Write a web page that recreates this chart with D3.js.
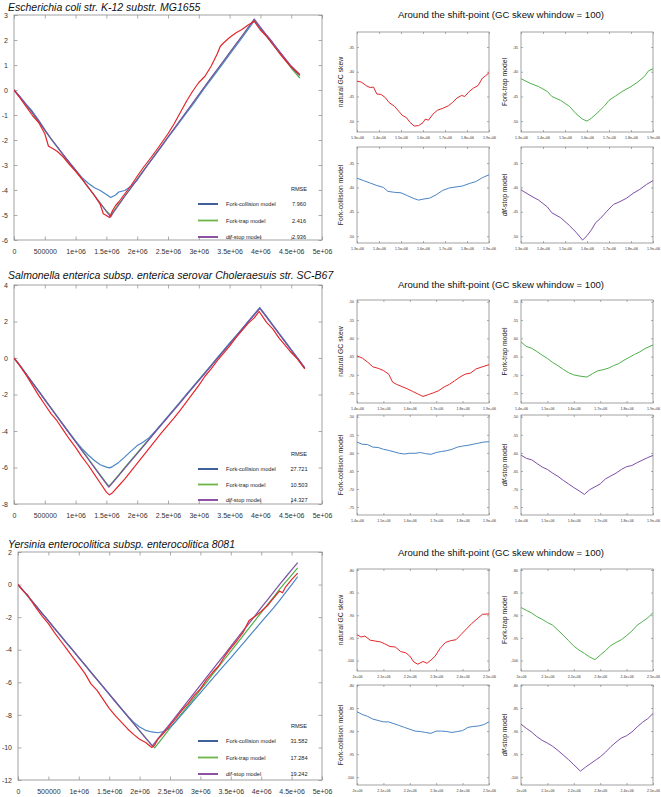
<!DOCTYPE html>
<html><head><meta charset="utf-8">
<script src="https://cdn.jsdelivr.net/npm/d3@7"></script>
<style>body{margin:0;background:#fff}</style>
</head><body><svg id="c" width="661" height="797"></svg>
<script>
// ---------------- DATA ----------------
const bigTitles = [
  "Escherichia coli str. K-12 substr. MG1655",
  "Salmonella enterica subsp. enterica serovar Choleraesuis str. SC-B67",
  "Yersinia enterocolitica subsp. enterocolitica 8081"
];
const sideTitle = "Around the shift-point (GC skew whindow = 100)";
const bigXTicks = [0,500000,1000000,1500000,2000000,2500000,3000000,3500000,4000000,4500000,5000000];
const bigXTickLabels = ["0","500000","1e+06","1.5e+06","2e+06","2.5e+06","3e+06","3.5e+06","4e+06","4.5e+06","5e+06"];
const ecoliYTicks = [-6,-5,-4,-3,-2,-1,0,1,2,3];
const salYTicks = [-8,-6,-4,-2,0,2,4];
const yerYTicks = [-12,-10,-8,-6,-4,-2,0,2];
const modelNames = ["Fork-collision model","Fork-trap model","dif-stop model"];
const ecoliRMSE = ["7.960","2.416","2.936"];
const salRMSE = ["27.721","10.503","14.327"];
const yerRMSE = ["31.582","17.284","19.242"];

// big panels: [position (Mb), cumulative GC skew]
const ecoliNatural = [[0,0],[0.1,-0.33],[0.2,-0.68],[0.3,-1.02],[0.4,-1.3],[0.5,-1.75],[0.56,-2.25],[0.6,-2.3],[0.7,-2.45],[0.8,-2.68],[0.9,-2.98],[1.0,-3.25],[1.1,-3.55],[1.2,-3.88],[1.3,-4.2],[1.4,-4.58],[1.45,-4.95],[1.5,-5.02],[1.55,-5.1],[1.6,-4.82],[1.65,-4.62],[1.7,-4.48],[1.8,-4.15],[1.9,-3.82],[2.0,-3.45],[2.1,-3.1],[2.2,-2.78],[2.3,-2.45],[2.4,-2.1],[2.5,-1.75],[2.6,-1.35],[2.7,-0.9],[2.8,-0.45],[2.9,-0.05],[3.0,0.3],[3.1,0.55],[3.2,0.95],[3.3,1.45],[3.35,1.75],[3.4,1.88],[3.5,2.1],[3.6,2.28],[3.7,2.42],[3.8,2.6],[3.9,2.75],[4.0,2.4],[4.1,2.15],[4.2,1.82],[4.3,1.5],[4.4,1.2],[4.5,0.92],[4.64,0.6]];
const ecoliCollision = [[0,0],[0.1,-0.28],[0.2,-0.58],[0.3,-0.86],[0.4,-1.2],[0.5,-1.58],[0.6,-1.95],[0.7,-2.27],[0.8,-2.6],[0.9,-2.9],[1.0,-3.2],[1.1,-3.5],[1.2,-3.72],[1.3,-3.9],[1.4,-4.02],[1.5,-4.18],[1.57,-4.3],[1.65,-4.2],[1.7,-4.08],[1.8,-4.02],[1.9,-3.85],[2.0,-3.6],[2.1,-3.25],[2.2,-2.9],[2.3,-2.58],[2.4,-2.25],[2.5,-1.9],[2.6,-1.58],[2.7,-1.25],[2.8,-0.92],[2.9,-0.6],[3.0,-0.25],[3.1,0.1],[3.2,0.42],[3.3,0.75],[3.4,1.08],[3.5,1.42],[3.6,1.75],[3.7,2.08],[3.8,2.42],[3.9,2.76],[4.0,2.46],[4.1,2.15],[4.2,1.85],[4.3,1.55],[4.4,1.24],[4.5,0.92],[4.64,0.58]];
const ecoliTrap = [[0,0],[0.1,-0.3],[0.2,-0.62],[0.3,-0.93],[0.4,-1.27],[0.5,-1.62],[0.6,-1.96],[0.7,-2.28],[0.8,-2.6],[0.9,-2.92],[1.0,-3.22],[1.1,-3.55],[1.2,-3.88],[1.3,-4.2],[1.4,-4.52],[1.5,-4.84],[1.57,-5.02],[1.6,-4.9],[1.7,-4.56],[1.8,-4.23],[1.9,-3.9],[2.0,-3.56],[2.1,-3.22],[2.2,-2.89],[2.3,-2.55],[2.4,-2.22],[2.5,-1.88],[2.6,-1.55],[2.7,-1.21],[2.8,-0.88],[2.9,-0.54],[3.0,-0.2],[3.1,0.13],[3.2,0.47],[3.3,0.8],[3.4,1.14],[3.5,1.47],[3.6,1.81],[3.7,2.14],[3.8,2.48],[3.9,2.8],[4.0,2.45],[4.1,2.15],[4.2,1.84],[4.3,1.52],[4.4,1.2],[4.5,0.88],[4.64,0.48]];
const ecoliDif = [[0,0],[0.1,-0.29],[0.2,-0.6],[0.3,-0.9],[0.4,-1.24],[0.5,-1.6],[0.6,-1.94],[0.7,-2.26],[0.8,-2.58],[0.9,-2.9],[1.0,-3.21],[1.1,-3.54],[1.2,-3.87],[1.3,-4.2],[1.4,-4.53],[1.5,-4.86],[1.57,-5.08],[1.6,-4.95],[1.7,-4.6],[1.8,-4.25],[1.9,-3.92],[2.0,-3.58],[2.1,-3.24],[2.2,-2.9],[2.3,-2.56],[2.4,-2.22],[2.5,-1.88],[2.6,-1.54],[2.7,-1.2],[2.8,-0.86],[2.9,-0.52],[3.0,-0.18],[3.1,0.16],[3.2,0.5],[3.3,0.83],[3.4,1.16],[3.5,1.5],[3.6,1.83],[3.7,2.16],[3.8,2.5],[3.9,2.84],[4.0,2.52],[4.1,2.2],[4.2,1.9],[4.3,1.58],[4.4,1.27],[4.5,0.96],[4.64,0.62]];

const salNatural = [[0,0],[0.1,-0.45],[0.2,-0.95],[0.3,-1.5],[0.4,-2.05],[0.5,-2.55],[0.6,-3.05],[0.7,-3.45],[0.8,-3.95],[0.9,-4.45],[1.0,-4.9],[1.1,-5.4],[1.2,-5.85],[1.3,-6.35],[1.4,-6.85],[1.5,-7.35],[1.55,-7.5],[1.6,-7.38],[1.7,-7.0],[1.8,-6.62],[1.9,-6.2],[2.0,-5.78],[2.1,-5.35],[2.2,-4.92],[2.3,-4.5],[2.4,-4.08],[2.5,-3.68],[2.6,-3.28],[2.7,-2.85],[2.8,-2.4],[2.9,-1.95],[3.0,-1.5],[3.1,-1.0],[3.2,-0.6],[3.3,-0.15],[3.4,0.25],[3.5,0.65],[3.6,1.1],[3.7,1.5],[3.8,1.9],[3.9,2.2],[3.98,2.55],[4.05,2.2],[4.1,1.95],[4.2,1.6],[4.3,1.1],[4.4,0.7],[4.5,0.3],[4.6,-0.05],[4.72,-0.6]];
const salCollision = [[0,0],[0.1,-0.43],[0.2,-0.9],[0.3,-1.36],[0.4,-1.82],[0.5,-2.28],[0.6,-2.74],[0.7,-3.2],[0.8,-3.66],[0.9,-4.12],[1.0,-4.56],[1.1,-4.95],[1.2,-5.3],[1.3,-5.6],[1.4,-5.85],[1.5,-5.98],[1.55,-6.02],[1.6,-5.95],[1.7,-5.72],[1.8,-5.42],[1.9,-5.1],[2.0,-4.8],[2.1,-4.6],[2.2,-4.35],[2.3,-3.98],[2.4,-3.6],[2.5,-3.2],[2.6,-2.8],[2.7,-2.4],[2.8,-2.0],[2.9,-1.6],[3.0,-1.2],[3.1,-0.8],[3.2,-0.4],[3.3,0.0],[3.4,0.4],[3.5,0.82],[3.6,1.2],[3.7,1.6],[3.8,2.0],[3.9,2.4],[3.99,2.76],[4.1,2.28],[4.2,1.82],[4.3,1.37],[4.4,0.92],[4.5,0.46],[4.6,0.02],[4.72,-0.52]];
const salTrap = [[0,0],[0.1,-0.42],[0.2,-0.88],[0.3,-1.35],[0.4,-1.8],[0.5,-2.27],[0.6,-2.73],[0.7,-3.2],[0.8,-3.65],[0.9,-4.1],[1.0,-4.56],[1.1,-5.02],[1.2,-5.48],[1.3,-5.95],[1.4,-6.4],[1.5,-6.86],[1.54,-7.02],[1.6,-6.8],[1.7,-6.4],[1.8,-6.0],[1.9,-5.6],[2.0,-5.2],[2.1,-4.8],[2.2,-4.4],[2.3,-4.0],[2.4,-3.6],[2.5,-3.2],[2.6,-2.8],[2.7,-2.4],[2.8,-2.0],[2.9,-1.6],[3.0,-1.2],[3.1,-0.8],[3.2,-0.4],[3.3,0.0],[3.4,0.4],[3.5,0.8],[3.6,1.18],[3.7,1.58],[3.8,1.98],[3.9,2.38],[3.99,2.74],[4.1,2.25],[4.2,1.8],[4.3,1.35],[4.4,0.9],[4.5,0.45],[4.6,0.0],[4.72,-0.55]];
const salDif = [[0,0],[0.1,-0.43],[0.2,-0.89],[0.3,-1.36],[0.4,-1.82],[0.5,-2.29],[0.6,-2.75],[0.7,-3.22],[0.8,-3.68],[0.9,-4.14],[1.0,-4.6],[1.1,-5.06],[1.2,-5.52],[1.3,-5.98],[1.4,-6.44],[1.5,-6.9],[1.54,-7.08],[1.6,-6.84],[1.7,-6.44],[1.8,-6.04],[1.9,-5.64],[2.0,-5.24],[2.1,-4.84],[2.2,-4.44],[2.3,-4.04],[2.4,-3.64],[2.5,-3.24],[2.6,-2.84],[2.7,-2.44],[2.8,-2.04],[2.9,-1.64],[3.0,-1.24],[3.1,-0.84],[3.2,-0.44],[3.3,-0.04],[3.4,0.36],[3.5,0.76],[3.6,1.16],[3.7,1.56],[3.8,1.96],[3.9,2.36],[3.99,2.72],[4.1,2.24],[4.2,1.78],[4.3,1.33],[4.4,0.88],[4.5,0.43],[4.6,-0.02],[4.72,-0.56]];

const yerNatural = [[0,0],[0.05,-0.25],[0.1,-0.45],[0.15,-0.6],[0.2,-0.9],[0.3,-1.45],[0.4,-1.95],[0.5,-2.4],[0.6,-2.95],[0.7,-3.45],[0.8,-3.95],[0.9,-4.45],[1.0,-4.95],[1.1,-5.45],[1.2,-6.1],[1.3,-6.5],[1.4,-7.05],[1.5,-7.6],[1.6,-8.05],[1.7,-8.45],[1.8,-8.85],[1.9,-9.2],[2.0,-9.5],[2.1,-9.7],[2.2,-10.0],[2.25,-9.85],[2.3,-9.5],[2.4,-9.1],[2.5,-8.65],[2.6,-8.2],[2.7,-7.7],[2.8,-7.3],[2.9,-6.8],[3.0,-6.4],[3.1,-5.85],[3.2,-5.4],[3.3,-5.0],[3.4,-4.4],[3.5,-3.9],[3.6,-3.45],[3.7,-2.95],[3.8,-2.2],[3.9,-1.95],[4.0,-1.65],[4.1,-1.3],[4.2,-0.85],[4.3,-0.4],[4.35,-0.5],[4.4,-0.15],[4.5,0.3],[4.6,0.7]];
const yerCollision = [[0,0],[0.1,-0.43],[0.2,-0.88],[0.3,-1.33],[0.4,-1.79],[0.5,-2.23],[0.6,-2.69],[0.7,-3.13],[0.8,-3.59],[0.9,-4.03],[1.0,-4.49],[1.1,-4.93],[1.2,-5.39],[1.3,-5.83],[1.4,-6.28],[1.5,-6.73],[1.6,-7.18],[1.7,-7.62],[1.8,-8.05],[1.9,-8.45],[2.0,-8.75],[2.1,-8.95],[2.2,-9.05],[2.3,-9.1],[2.4,-9.02],[2.5,-8.78],[2.6,-8.38],[2.7,-7.95],[2.8,-7.52],[2.9,-7.08],[3.0,-6.65],[3.1,-6.2],[3.2,-5.78],[3.3,-5.35],[3.4,-4.92],[3.5,-4.5],[3.6,-4.05],[3.7,-3.62],[3.8,-3.18],[3.9,-2.75],[4.0,-2.3],[4.1,-1.88],[4.2,-1.45],[4.3,-0.98],[4.4,-0.5],[4.5,-0.02],[4.6,0.48]];
const yerTrap = [[0,0],[0.1,-0.42],[0.2,-0.88],[0.3,-1.32],[0.4,-1.78],[0.5,-2.22],[0.6,-2.68],[0.7,-3.12],[0.8,-3.58],[0.9,-4.02],[1.0,-4.48],[1.1,-4.92],[1.2,-5.38],[1.3,-5.82],[1.4,-6.27],[1.5,-6.72],[1.6,-7.17],[1.7,-7.62],[1.8,-8.07],[1.9,-8.52],[2.0,-8.97],[2.1,-9.42],[2.2,-9.86],[2.25,-10.02],[2.3,-9.78],[2.4,-9.3],[2.5,-8.82],[2.6,-8.36],[2.7,-7.88],[2.8,-7.42],[2.9,-6.95],[3.0,-6.47],[3.1,-6.0],[3.2,-5.52],[3.3,-5.05],[3.4,-4.57],[3.5,-4.1],[3.6,-3.62],[3.7,-3.15],[3.8,-2.67],[3.9,-2.2],[4.0,-1.72],[4.1,-1.25],[4.2,-0.78],[4.3,-0.3],[4.4,0.15],[4.5,0.58],[4.6,1.02]];
const yerDif = [[0,0],[0.1,-0.43],[0.2,-0.88],[0.3,-1.33],[0.4,-1.79],[0.5,-2.23],[0.6,-2.69],[0.7,-3.13],[0.8,-3.59],[0.9,-4.03],[1.0,-4.49],[1.1,-4.93],[1.2,-5.39],[1.3,-5.83],[1.4,-6.28],[1.5,-6.73],[1.6,-7.18],[1.7,-7.63],[1.8,-8.08],[1.9,-8.53],[2.0,-8.98],[2.1,-9.43],[2.21,-9.9],[2.3,-9.48],[2.4,-9.0],[2.5,-8.55],[2.6,-8.08],[2.7,-7.6],[2.8,-7.12],[2.9,-6.65],[3.0,-6.18],[3.1,-5.7],[3.2,-5.22],[3.3,-4.75],[3.4,-4.28],[3.5,-3.8],[3.6,-3.32],[3.7,-2.85],[3.8,-2.38],[3.9,-1.9],[4.0,-1.42],[4.1,-0.95],[4.2,-0.48],[4.3,0.0],[4.4,0.45],[4.5,0.9],[4.6,1.35]];

// small panels: [position (Mb), GC skew]
const smallYLabels = ["natural GC skew","Fork-trap model","Fork-collision model","dif-stop model"];
const ecoliZoomXTicks = [1.3,1.4,1.5,1.6,1.7,1.8,1.9];
const ecoliZoomXLabels = ["1.3e+06","1.4e+06","1.5e+06","1.6e+06","1.7e+06","1.8e+06","1.9e+06"];
const ecoliZoomYTicks = [-35,-40,-45,-50];
const salZoomXTicks = [1.4,1.5,1.6,1.7,1.8,1.9];
const salZoomXLabels = ["1.4e+06","1.5e+06","1.6e+06","1.7e+06","1.8e+06","1.9e+06"];
const salZoomYTicks = [-50,-55,-60,-65,-70,-75];
const yerZoomXTicks = [2.0,2.1,2.2,2.3,2.4,2.5];
const yerZoomXLabels = ["2e+06","2.1e+06","2.2e+06","2.3e+06","2.4e+06","2.5e+06"];
const yerZoomYTicks = [-80,-85,-90,-95,-100];

const natural1 = [[1.300,-41.9],[1.320,-42.1],[1.345,-42.9],[1.360,-43.2],[1.375,-43.1],[1.390,-44.5],[1.410,-44.6],[1.430,-45.3],[1.445,-46.2],[1.470,-47.0],[1.490,-48.0],[1.505,-48.8],[1.525,-49.3],[1.540,-50.2],[1.560,-51.0],[1.580,-50.9],[1.600,-50.3],[1.610,-49.6],[1.625,-49.8],[1.645,-48.6],[1.665,-47.8],[1.690,-47.4],[1.715,-46.9],[1.735,-46.2],[1.755,-45.3],[1.775,-44.8],[1.790,-45.0],[1.810,-44.0],[1.830,-43.3],[1.850,-42.8],[1.870,-41.3],[1.885,-40.8],[1.900,-40.2]];
const fork1 = [[1.30,-41.4],[1.34,-42.3],[1.38,-43.0],[1.42,-44.0],[1.44,-45.0],[1.48,-45.8],[1.52,-47.0],[1.55,-48.5],[1.58,-49.6],[1.60,-50.0],[1.62,-49.4],[1.65,-48.2],[1.68,-46.9],[1.70,-45.8],[1.73,-44.9],[1.76,-44.0],[1.80,-43.0],[1.83,-42.1],[1.86,-41.0],[1.88,-39.8],[1.90,-39.4]];
const collision1 = [[1.30,-38.1],[1.33,-38.6],[1.36,-39.1],[1.39,-39.6],[1.42,-40.0],[1.44,-40.8],[1.47,-41.0],[1.50,-41.1],[1.53,-41.7],[1.56,-42.3],[1.58,-42.6],[1.60,-42.4],[1.63,-42.2],[1.66,-41.5],[1.69,-40.6],[1.72,-40.1],[1.75,-39.9],[1.78,-39.7],[1.81,-39.2],[1.84,-38.8],[1.87,-38.0],[1.90,-37.4]];
const difstop1 = [[1.30,-40.5],[1.34,-41.6],[1.38,-42.6],[1.42,-44.0],[1.44,-45.2],[1.48,-46.2],[1.52,-47.8],[1.55,-49.2],[1.58,-50.8],[1.60,-49.9],[1.62,-48.7],[1.64,-47.2],[1.66,-46.4],[1.69,-44.9],[1.72,-43.5],[1.75,-42.9],[1.78,-42.2],[1.81,-41.2],[1.84,-40.4],[1.87,-39.4],[1.90,-38.6]];

const natural2 = [[1.40,-64.8],[1.42,-65.4],[1.44,-66.5],[1.46,-67.8],[1.48,-68.2],[1.50,-68.8],[1.52,-69.8],[1.535,-72.0],[1.55,-72.6],[1.57,-73.2],[1.59,-73.8],[1.61,-74.5],[1.63,-75.2],[1.65,-75.9],[1.67,-75.4],[1.69,-74.9],[1.71,-74.3],[1.73,-73.3],[1.75,-72.6],[1.77,-71.6],[1.79,-70.6],[1.81,-69.8],[1.83,-69.5],[1.85,-68.4],[1.87,-67.9],[1.90,-67.2]];
const fork2 = [[1.40,-61.0],[1.42,-62.2],[1.44,-62.7],[1.46,-63.6],[1.48,-64.6],[1.50,-65.5],[1.52,-66.6],[1.54,-67.5],[1.56,-68.5],[1.58,-69.4],[1.60,-70.0],[1.62,-70.3],[1.65,-70.6],[1.67,-69.7],[1.69,-68.9],[1.71,-68.6],[1.73,-68.2],[1.75,-67.5],[1.77,-66.9],[1.79,-66.0],[1.81,-65.2],[1.83,-64.4],[1.85,-63.7],[1.87,-62.8],[1.90,-61.8]];
const collision2 = [[1.40,-57.0],[1.42,-57.6],[1.44,-57.7],[1.46,-58.4],[1.48,-58.5],[1.50,-59.0],[1.52,-59.3],[1.54,-59.7],[1.56,-60.1],[1.58,-60.3],[1.60,-60.1],[1.62,-60.1],[1.64,-59.9],[1.66,-60.2],[1.68,-60.4],[1.70,-59.9],[1.72,-59.6],[1.74,-59.4],[1.76,-59.0],[1.78,-58.4],[1.80,-58.1],[1.82,-57.9],[1.84,-57.6],[1.86,-57.3],[1.88,-57.0],[1.90,-56.9]];
const difstop2 = [[1.40,-60.6],[1.42,-61.5],[1.44,-61.9],[1.46,-62.9],[1.48,-63.9],[1.50,-64.6],[1.52,-65.6],[1.54,-66.5],[1.56,-67.6],[1.58,-68.6],[1.60,-69.6],[1.62,-70.5],[1.64,-71.5],[1.66,-70.2],[1.68,-69.4],[1.70,-68.6],[1.72,-67.2],[1.74,-66.4],[1.76,-65.6],[1.78,-64.6],[1.80,-63.8],[1.82,-63.5],[1.84,-62.7],[1.86,-62.0],[1.88,-61.3],[1.90,-60.7]];

const natural3 = [[2.000,-94.3],[2.015,-94.8],[2.030,-94.6],[2.050,-95.5],[2.070,-95.7],[2.090,-95.9],[2.105,-96.3],[2.125,-96.9],[2.145,-97.0],[2.165,-98.0],[2.185,-98.3],[2.200,-99.0],[2.215,-100.3],[2.230,-100.8],[2.250,-100.2],[2.265,-100.6],[2.280,-99.9],[2.295,-99.1],[2.315,-97.3],[2.335,-96.0],[2.355,-95.6],[2.375,-95.4],[2.395,-94.2],[2.415,-93.0],[2.435,-91.8],[2.455,-90.8],[2.475,-89.8],[2.500,-89.7]];
const fork3 = [[2.000,-88.3],[2.020,-88.9],[2.040,-89.5],[2.060,-90.3],[2.080,-90.9],[2.100,-91.6],[2.120,-92.2],[2.140,-93.3],[2.160,-94.4],[2.180,-95.6],[2.200,-96.8],[2.220,-97.7],[2.240,-98.4],[2.260,-99.2],[2.280,-99.8],[2.300,-98.8],[2.320,-97.8],[2.340,-96.7],[2.360,-96.0],[2.380,-95.4],[2.400,-94.5],[2.420,-93.5],[2.440,-92.2],[2.460,-91.4],[2.480,-90.6],[2.500,-89.4]];
const collision3 = [[2.000,-85.8],[2.020,-86.4],[2.040,-86.8],[2.060,-87.4],[2.080,-87.7],[2.100,-88.0],[2.120,-88.0],[2.140,-88.4],[2.160,-88.8],[2.180,-89.2],[2.200,-89.6],[2.220,-90.0],[2.240,-90.1],[2.260,-90.3],[2.280,-90.5],[2.300,-90.0],[2.320,-90.0],[2.340,-90.1],[2.360,-90.3],[2.380,-90.1],[2.400,-89.9],[2.420,-89.2],[2.440,-89.0],[2.460,-88.9],[2.480,-88.6],[2.500,-88.0]];
const difstop3 = [[2.000,-88.5],[2.020,-89.4],[2.040,-90.2],[2.060,-91.2],[2.080,-92.0],[2.100,-92.6],[2.120,-93.3],[2.140,-94.2],[2.160,-95.2],[2.180,-96.2],[2.200,-97.3],[2.225,-98.7],[2.245,-97.8],[2.265,-97.0],[2.285,-96.2],[2.300,-95.6],[2.320,-94.6],[2.340,-93.4],[2.360,-92.4],[2.380,-91.5],[2.400,-91.0],[2.420,-90.2],[2.440,-89.1],[2.460,-88.1],[2.480,-87.3],[2.500,-86.2]];

// ---------------- DRAWING ----------------
const FONT = "'Liberation Sans', Arial, Helvetica, sans-serif";
const COL = {red:"#e3262a", blue:"#4a84c4", green:"#4fb04a", purple:"#7e4ea6"};
const LEG = {blue:"#2c4e8e", green:"#6db54a", purple:"#7f3f9a"};
const FRAME = "#8a8a8a";
const svg = d3.select("#c");
let clipId = 0;

function frameAxes(g, x, y, xt, xl, yt, yl, fs, tick, padX, padY) {
  const [x0,x1] = x.range(), [y1,y0] = y.range();
  const b = g.append("g").attr("transform",`translate(0,${y1})`)
    .call(d3.axisBottom(x).tickValues(xt).tickFormat((d,i)=>xl?xl[i]:"").tickSizeInner(-tick).tickSizeOuter(0).tickPadding(padX));
  const t = g.append("g").attr("transform",`translate(0,${y0})`)
    .call(d3.axisTop(x).tickValues(xt).tickFormat("").tickSizeInner(-tick).tickSizeOuter(0));
  const l = g.append("g").attr("transform",`translate(${x0},0)`)
    .call(d3.axisLeft(y).tickValues(yt).tickFormat((d,i)=>yl?yl[i]:"").tickSizeInner(-tick).tickSizeOuter(0).tickPadding(padY));
  const r = g.append("g").attr("transform",`translate(${x1},0)`)
    .call(d3.axisRight(y).tickValues(yt).tickFormat("").tickSizeInner(-tick).tickSizeOuter(0));
  [b,t,l,r].forEach(a=>{
    a.select(".domain").remove();
    a.selectAll("line").attr("stroke",FRAME).attr("stroke-width",0.7);
    a.selectAll("text").attr("fill","#333").style("font-family",FONT).style("font-size",fs+"px");
  });
  g.append("rect").attr("x",x0).attr("y",y0).attr("width",x1-x0).attr("height",y1-y0)
    .attr("fill","none").attr("stroke",FRAME).attr("stroke-width",0.8);
}

function drawLines(g, x, y, series, xMult, width) {
  const id = "clip"+(clipId++);
  const [x0,x1] = x.range(), [y1,y0] = y.range();
  g.append("clipPath").attr("id",id).append("rect").attr("x",x0).attr("y",y0).attr("width",x1-x0).attr("height",y1-y0);
  const line = d3.line().x(d=>x(d[0]*xMult)).y(d=>y(d[1]));
  const lg = g.append("g").attr("clip-path",`url(#${id})`);
  series.forEach(s=>{
    lg.append("path").datum(s.data).attr("d",line).attr("fill","none")
      .attr("stroke",s.color).attr("stroke-width",width).attr("stroke-linejoin","round");
  });
}

function bigPanel(c) {
  const g = svg.append("g");
  const x = d3.scaleLinear().domain([0,5e6]).range([c.x0,c.x1]);
  const y = d3.scaleLinear().domain(c.yDomain).range([c.y1,c.y0]);
  g.append("text").attr("x",c.tx).attr("y",c.ty).text(c.title)
    .style("font-family",FONT).style("font-size","10.5px").style("font-style","italic").attr("fill","#111");
  frameAxes(g, x, y, bigXTicks, bigXTickLabels, c.yTicks, c.yTicks.map(String), 7, 3.5, 9, 6);
  drawLines(g, x, y, [
    {data:c.trap, color:COL.green},
    {data:c.coll, color:COL.blue},
    {data:c.dif, color:COL.purple},
    {data:c.nat, color:COL.red}
  ], 1e6, 1.2);
  // legend
  const lx = c.x1 - 124, ly = c.legY;
  const fsL = "5.6px";
  g.append("text").attr("x",c.x1-23).attr("y",ly).attr("text-anchor","middle").text("RMSE")
    .style("font-family",FONT).style("font-size",fsL).attr("fill","#222");
  const legCols = [LEG.blue, LEG.green, LEG.purple];
  modelNames.forEach((n,i)=>{
    const yy = ly + 13 + i*c.legStep;
    g.append("line").attr("x1",lx).attr("x2",lx+20).attr("y1",yy).attr("y2",yy)
      .attr("stroke",legCols[i]).attr("stroke-width",1.8);
    const t = g.append("text").attr("x",lx+28).attr("y",yy+2).style("font-family",FONT).style("font-size",fsL).attr("fill","#222");
    if (n.startsWith("dif")) {
      t.append("tspan").style("font-style","italic").text("dif");
      t.append("tspan").text(n.slice(3));
    } else t.text(n);
    g.append("text").attr("x",c.x1-23).attr("y",yy+2).attr("text-anchor","middle").text(c.rmse[i])
      .style("font-family",FONT).style("font-size",fsL).attr("fill","#222");
  });
}

bigPanel({title:bigTitles[0], tx:8, ty:11, x0:14, x1:322, y0:15, y1:240, yDomain:[-6,3], yTicks:ecoliYTicks,
  nat:ecoliNatural, coll:ecoliCollision, trap:ecoliTrap, dif:ecoliDif, rmse:ecoliRMSE, legY:191, legStep:16.5});
bigPanel({title:bigTitles[1], tx:8, ty:279, x0:14, x1:322, y0:285, y1:504, yDomain:[-8,4], yTicks:salYTicks,
  nat:salNatural, coll:salCollision, trap:salTrap, dif:salDif, rmse:salRMSE, legY:456, legStep:15.5});
bigPanel({title:bigTitles[2], tx:8, ty:548, x0:18, x1:322, y0:552, y1:780, yDomain:[-12,2], yTicks:yerYTicks,
  nat:yerNatural, coll:yerCollision, trap:yerTrap, dif:yerDif, rmse:yerRMSE, legY:728, legStep:16.5});

function smallPanel(c) {
  const g = svg.append("g");
  const x = d3.scaleLinear().domain(c.xDomain).range([c.x0,c.x1]);
  const y = d3.scaleLinear().domain(c.yDomain).range([c.y1,c.y0]);
  frameAxes(g, x, y, c.xTicks, c.xLabels, c.yTicks, c.yTicks.map(String), 3.6, 2, 4, 3);
  drawLines(g, x, y, [{data:c.data, color:c.color}], 1, 1);
  const cy = (c.y0+c.y1)/2;
  g.append("text").attr("transform",`translate(${c.x0-14},${cy}) rotate(-90)`).attr("text-anchor","middle")
    .style("font-family",FONT).style("font-size","6.8px").attr("fill","#222")
    .call(t=>{
      if (c.label.startsWith("dif")) { t.append("tspan").style("font-style","italic").text("dif"); t.append("tspan").text(c.label.slice(3)); }
      else t.text(c.label);
    });
}

function group(c) {
  svg.append("text").attr("x",501).attr("y",c.ty).attr("text-anchor","middle").text(sideTitle)
    .style("font-family",FONT).style("font-size","9.6px").attr("fill","#111");
  const xs = [[357,489],[521,653],[357,489],[521,653]];
  const ys = [c.top,c.top,c.bottom,c.bottom];
  const doms = [c.topDom,c.topDom,c.botDom,c.botDom];
  const cols = [COL.red, COL.green, COL.blue, COL.purple];
  c.data.forEach((d,i)=>{
    smallPanel({x0:xs[i][0], x1:xs[i][1], y0:ys[i][0], y1:ys[i][1], xDomain:c.xDomain, yDomain:doms[i],
      xTicks:c.xTicks, xLabels:c.xLabels, yTicks:c.yTicks, data:d, color:cols[i], label:smallYLabels[i]});
  });
}

group({ty:18, top:[32,132], bottom:[147,243], topDom:[-52.2,-31.95], botDom:[-51.4,-31.7],
  xDomain:[1.3,1.9], xTicks:ecoliZoomXTicks, xLabels:ecoliZoomXLabels, yTicks:ecoliZoomYTicks,
  data:[natural1, fork1, collision1, difstop1]});
group({ty:288, top:[300,403], bottom:[415,515], topDom:[-77.7,-49.5], botDom:[-77.2,-49.5],
  xDomain:[1.4,1.9], xTicks:salZoomXTicks, xLabels:salZoomXLabels, yTicks:salZoomYTicks,
  data:[natural2, fork2, collision2, difstop2]});
group({ty:556, top:[569,671], bottom:[685,785], topDom:[-102.3,-79.8], botDom:[-101.7,-80],
  xDomain:[2.0,2.5], xTicks:yerZoomXTicks, xLabels:yerZoomXLabels, yTicks:yerZoomYTicks,
  data:[natural3, fork3, collision3, difstop3]});
</script>
</body></html>
